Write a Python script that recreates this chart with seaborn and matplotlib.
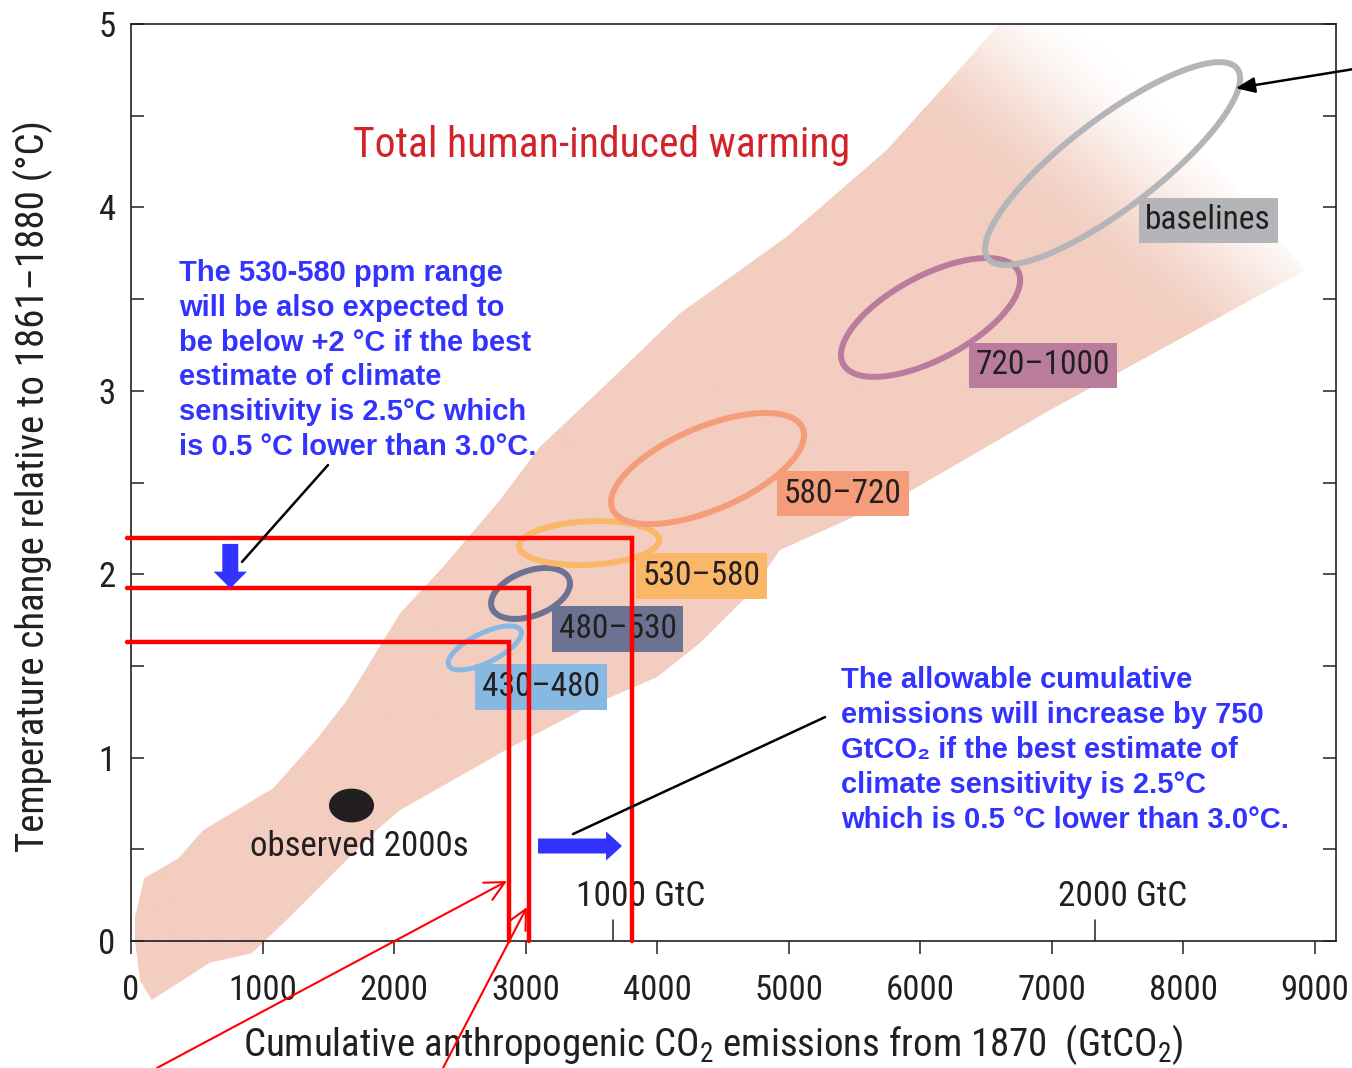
import numpy as np
import pandas as pd
import matplotlib
matplotlib.use("Agg")
import matplotlib.pyplot as plt
import seaborn as sns
from matplotlib import font_manager as fm
from matplotlib.patches import Polygon, Rectangle
from matplotlib.path import Path
from matplotlib.ticker import MultipleLocator

# ---------------- data ----------------
# CO2-eq concentration categories (ppm) with their emission/warming ellipses
categories = ["430–480", "480–530", "530–580", "580–720", "720–1000", "baselines"]
cat_colors = ["#86b8e2", "#6c7292", "#fbb768", "#f59c7b", "#ba7c9d", "#b3b5b8"]
ell_cx = [2690, 3038, 3483, 4384, 6080, 7464]          # GtCO2
ell_cy = [1.598, 1.895, 2.170, 2.576, 3.400, 4.239]    # degC
ell_rx = [278, 300, 532, 734, 681, 970]                # half x-extent (GtCO2)
ell_ry = [0.120, 0.139, 0.120, 0.303, 0.324, 0.553]    # half y-extent (degC)
ell_phase = [47, 67, 82, 53, 51, 33]                   # x/y phase lag (deg)
ell_lw = [3.6, 4.3, 4.3, 4.3, 4.3, 4.3]
label_x = [3118, 3700, 4338, 5414, 6935, 8190]
label_y = [1.385, 1.701, 1.990, 2.440, 3.138, 3.929]

# total human-induced warming envelope (outline, GtCO2 / degC)
band_x = [157, 68, 30, 30, 101, 360, 550, 1082, 1407, 1643, 2046, 2375, 2806,
          3110, 3541, 4175, 4986, 5747, 6228, 6583, 6600, 7293, 8928, 8890,
          6989, 5901, 4935, 4707, 4327, 4000, 3475, 2890, 2411, 2046, 1868,
          1412, 1184, 918, 601]
band_y = [-0.322, -0.213, 0.005, 0.131, 0.342, 0.451, 0.605, 0.833, 1.096,
          1.314, 1.787, 2.041, 2.405, 2.695, 2.986, 3.423, 3.840, 4.313, 4.695,
          4.985, 5.0, 5.0, 3.659, 3.642, 2.895, 2.443, 2.132, 1.897, 1.625,
          1.439, 1.276, 1.058, 0.862, 0.714, 0.605, 0.278, 0.115, -0.067,
          -0.118]
band_color = "#f2cdc0"

# observed 2000s
obs_x = [1673]
obs_y = [0.742]

# thresholds read across to cumulative emissions
red_levels_y = [2.20, 1.925, 1.628]
red_levels_x = [3806, 3027, 2877]

# secondary scale (GtC)
gtc_ticks = [3667, 7333]
gtc_labels = ["1000 GtC", "2000 GtC"]
gtc_label_x = [3878, 7544]

x_ticks = list(range(0, 9001, 1000))
y_ticks = [0, 1, 2, 3, 4, 5]
XMAX, YMAX = 9163, 5

left_note = ("The 530-580 ppm range\nwill be also expected to\n"
             "be below +2 °C if the best\nestimate of climate\n"
             "sensitivity is 2.5°C which\nis 0.5 °C lower than 3.0°C.")
right_note = ("The allowable cumulative\nemissions will increase by 750\n"
              "GtCO₂ if the best estimate of\nclimate sensitivity is 2.5°C\n"
              "which is 0.5 °C lower than 3.0°C.")

# ---------------- style ----------------
sns.set_theme(style="ticks")
names = {f.name for f in fm.fontManager.ttflist}
narrow = next((n for n in ("Roboto Condensed", "Liberation Sans Narrow",
                           "Open Sans Condensed", "Noto Sans Condensed",
                           "DejaVu Sans Condensed") if n in names),
              "Liberation Sans")
plt.rcParams["font.family"] = [narrow, "DejaVu Sans"]
plt.rcParams["mathtext.fontset"] = "custom"
plt.rcParams["mathtext.rm"] = narrow
plt.rcParams["mathtext.it"] = narrow
plt.rcParams["mathtext.bf"] = narrow
INK = "#231f20"
BLUE = "#3333ff"
RED = "#ff0000"
bold_family = ["Liberation Sans", "DejaVu Sans"]

fig = plt.figure(figsize=(13.52, 10.68), dpi=100, facecolor="white")
ax = fig.add_axes([131 / 1352, 127 / 1068, 1205 / 1352, 917 / 1068])
ax.set_facecolor("white")
ax.set_xlim(0, XMAX)
ax.set_ylim(0, YMAX)

# ---------------- warming envelope with faded upper end ----------------
verts = np.column_stack([band_x, band_y])
clip_poly = Polygon(verts, closed=True)
clip_poly.set_transform(ax.transData)

gx = np.linspace(0, XMAX, 900)
gy = np.linspace(0, YMAX, 500)
GX, GY = np.meshgrid(gx, gy)
disp = ax.transData.transform(np.column_stack([GX.ravel(), GY.ravel()]))
H = fig.get_size_inches()[1] * fig.dpi
proj = 0.643 * disp[:, 0] - 0.765 * (H - disp[:, 1])
a = np.clip((680 - proj) / 180, 0, 1)
a = a * a * (3 - 2 * a)
rgba = np.zeros((gy.size, gx.size, 4))
rgba[..., :3] = matplotlib.colors.to_rgb(band_color)
rgba[..., 3] = a.reshape(GX.shape)
im = ax.imshow(rgba, extent=(0, XMAX, 0, YMAX), origin="lower", aspect="auto",
               interpolation="bilinear", zorder=0.5)
im.set_clip_path(clip_poly)
ax.set_xlim(0, XMAX)
ax.set_ylim(0, YMAX)

# part of the envelope that runs below the axis
below = Polygon(verts, closed=True, fc=band_color, ec="none", zorder=0.5)
ax.add_patch(below)
below.set_clip_path(Rectangle((-500, -2), XMAX + 1000, 2, transform=ax.transData))

# ---------------- ellipses and their labels ----------------
t = np.linspace(0, 2 * np.pi, 400)
for name, col, cx, cy, rx, ry, ph, lw in zip(categories, cat_colors, ell_cx, ell_cy,
                                             ell_rx, ell_ry, ell_phase, ell_lw):
    df = pd.DataFrame({"x": cx + rx * np.cos(t),
                       "y": cy + ry * np.cos(t - np.radians(ph))})
    sns.lineplot(data=df, x="x", y="y", sort=False, estimator=None, color=col,
                 lw=lw, ax=ax, zorder=2, solid_capstyle="round")

for name, col, lx, ly in zip(categories, cat_colors, label_x, label_y):
    ax.text(lx, ly, name, ha="center", va="center", fontsize=24, color=INK,
            zorder=3, bbox=dict(boxstyle="square,pad=0.2", fc=col, ec="none"))

# observed decade
ell_marker = Path(np.column_stack([np.cos(t), 0.75 * np.sin(t)]))
sns.scatterplot(x=obs_x, y=obs_y, marker=ell_marker, s=1050, color=INK,
                linewidth=0, ax=ax, zorder=3, legend=False)
ax.text(1734, 0.513, "observed 2000s", ha="center", va="center", fontsize=25,
        color=INK, zorder=3)

# ---------------- threshold read-offs ----------------
for lx, ly in zip(red_levels_x, red_levels_y):
    sns.lineplot(x=[-30, lx, lx], y=[ly, ly, 0], sort=False, estimator=None,
                 color=RED, lw=3.2, ax=ax, zorder=5, clip_on=False,
                 solid_joinstyle="miter")

# red pointers from below the axis
for tail, tip in [((198, -0.692), (2859, 0.327)), ((2373, -0.692), (3011, 0.185))]:
    ax.annotate("", xy=tip, xytext=tail, annotation_clip=False, zorder=6,
                arrowprops=dict(arrowstyle="->,head_length=14,head_width=7",
                                mutation_scale=1, color=RED, lw=1.5,
                                shrinkA=0, shrinkB=0))

# blue shift arrows
ax.annotate("", xy=(755, 1.923), xytext=(755, 2.165), zorder=6,
            arrowprops=dict(arrowstyle="simple,head_length=12,head_width=24,tail_width=11.5",
                            mutation_scale=1, color=BLUE, lw=0, shrinkA=0, shrinkB=0))
ax.annotate("", xy=(3734, 0.518), xytext=(3095, 0.518), zorder=6,
            arrowprops=dict(arrowstyle="simple,head_length=11.5,head_width=21,tail_width=10.8",
                            mutation_scale=1, color=BLUE, lw=0, shrinkA=0, shrinkB=0))

# black leader lines
sns.lineplot(x=[1498, 844], y=[2.595, 2.067], sort=False, estimator=None,
             color="black", lw=1.8, ax=ax, zorder=6)
sns.lineplot(x=[5278, 3361], y=[1.221, 0.583], sort=False, estimator=None,
             color="black", lw=1.8, ax=ax, zorder=6)
ax.annotate("", xy=(8400, 4.650), xytext=(9346, 4.760), annotation_clip=False,
            zorder=6,
            arrowprops=dict(arrowstyle="-|>,head_length=11.5,head_width=4.7",
                            mutation_scale=1, color="black", lw=1.8,
                            shrinkA=0, shrinkB=0))

# ---------------- texts ----------------
ax.text(3578, 4.340, "Total human-induced warming", ha="center", va="center",
        fontsize=30, color="#d2232a", zorder=4)
ax.text(365, 3.719, left_note, ha="left", va="top", fontsize=21, fontweight="bold",
        family=bold_family, color=BLUE, linespacing=1.31, zorder=7)
ax.text(5399, 1.497, right_note, ha="left", va="top", fontsize=21,
        fontweight="bold", family=bold_family, color=BLUE, linespacing=1.31,
        zorder=7)

# secondary GtC scale
for gt, lab, gxl in zip(gtc_ticks, gtc_labels, gtc_label_x):
    ax.axvline(gt, ymin=0, ymax=21 / 917, color=INK, lw=1.1, zorder=4)
    ax.text(gxl, 0.245, lab, ha="center", va="center", fontsize=25.5, color=INK,
            zorder=4)

# ---------------- axes ----------------
ax.set_xticks(x_ticks)
ax.set_yticks(y_ticks)
ax.yaxis.set_minor_locator(MultipleLocator(0.5))
ax.tick_params(axis="x", which="major", direction="out", length=9.5, width=1.1,
               pad=14.5, labelsize=25, color=INK, labelcolor=INK)
ax.tick_params(axis="y", which="both", direction="in", length=9.5, width=1.1,
               left=True, right=True, labelleft=True, labelright=False,
               pad=11, labelsize=25, color=INK, labelcolor=INK)
for side in ["left", "right", "top", "bottom"]:
    ax.spines[side].set_visible(True)
    ax.spines[side].set_color(INK)
    ax.spines[side].set_linewidth(1.2)

ax.set_xlabel("Cumulative anthropogenic CO$_2$ emissions from 1870  (GtCO$_2$)",
              fontsize=28, color=INK)
ax.set_ylabel("Temperature change relative to 1861–1880 (°C)", fontsize=28,
              color=INK)
ax.xaxis.label.set_va("center")
ax.yaxis.label.set_va("center")
ax.xaxis.set_label_coords(0.483, -0.1134)
ax.yaxis.set_label_coords(-0.0813, 0.496)

ax.set_xlim(0, XMAX)
ax.set_ylim(0, YMAX)
fig.savefig("out.png", dpi=100, facecolor="white")
